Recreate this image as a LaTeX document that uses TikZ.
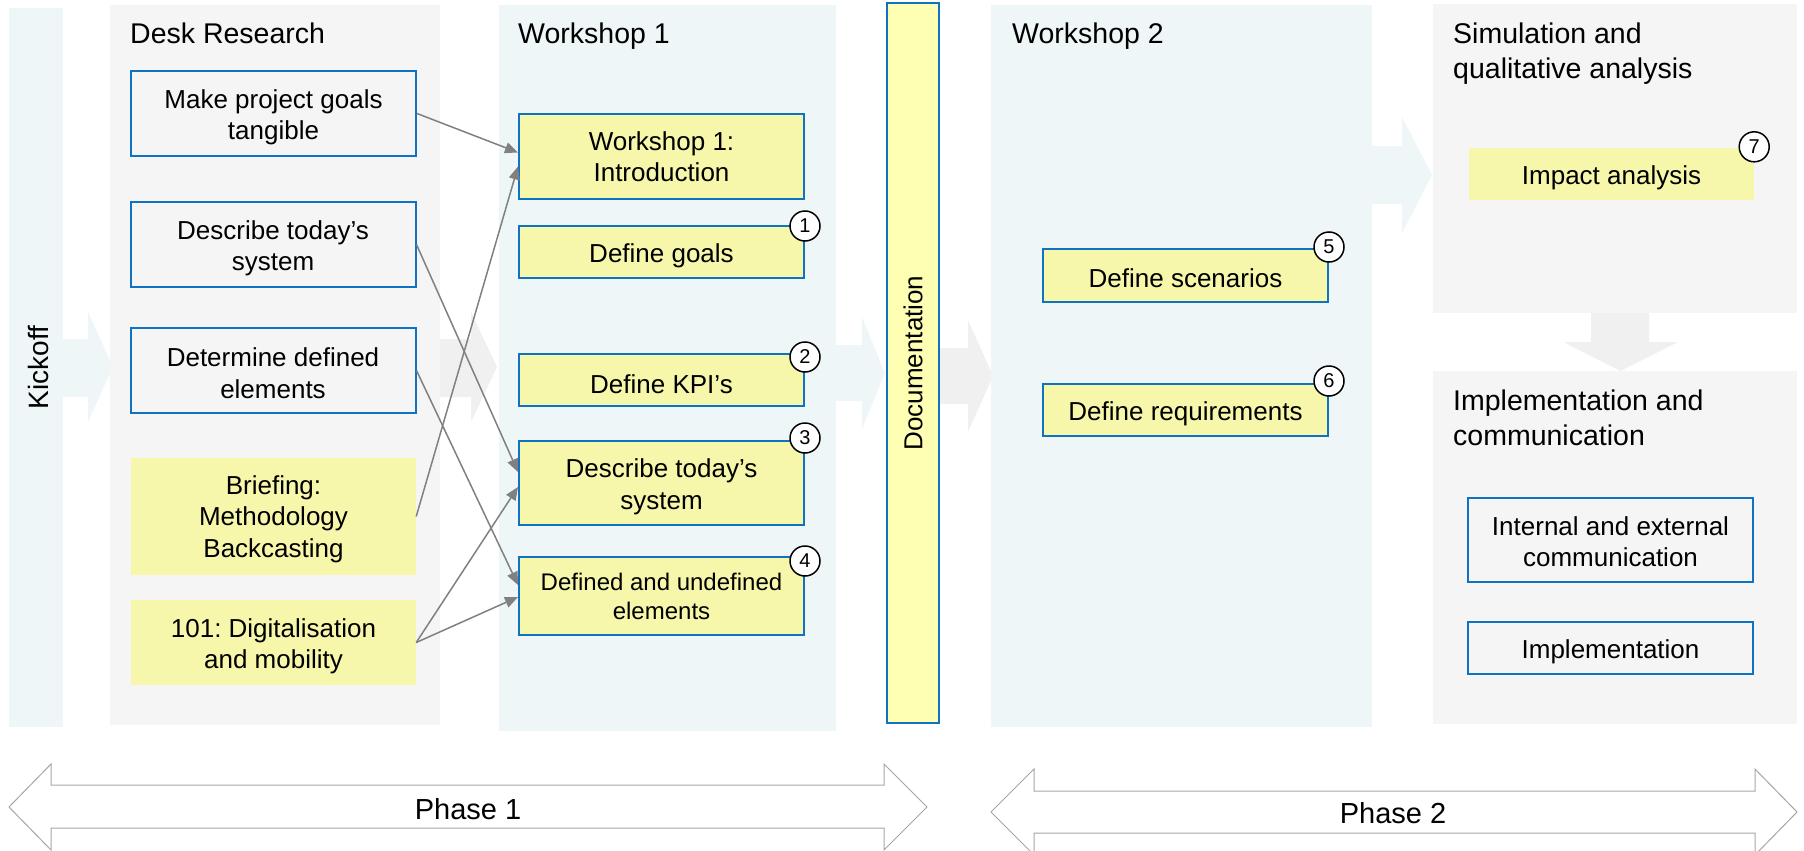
\documentclass[tikz,border=0pt]{standalone}
\usepackage{fontspec}
\setmainfont{Liberation Sans}
\usetikzlibrary{arrows.meta,calc}
\frenchspacing
\definecolor{panelblue}{HTML}{EEF6F8}
\definecolor{panelgray}{HTML}{F5F5F5}
\definecolor{bgarrowgray}{HTML}{F0F0F0}
\definecolor{boxyellow}{HTML}{F6F7AB}
\definecolor{docyellow}{HTML}{FFFFB3}
\definecolor{boxblue}{HTML}{0F72C2}
\definecolor{linkgray}{HTML}{808080}
\definecolor{phasegray}{HTML}{A6A6A6}
\newcommand{\lowerstrut}{\rule{0pt}{26.5pt}}
\begin{document}
\begin{tikzpicture}[x=1pt,y=-1pt,
  panelbox/.style={inner sep=0pt, outer sep=0pt},
  titletext/.style={inner sep=0pt, font=\fontsize{28.5}{35}\selectfont, align=left},
  outlinebox/.style={draw=boxblue, line width=2pt, inner sep=0pt, align=center,
     minimum width=285pt, font=\fontsize{26}{31.5}\selectfont},
  yelbox/.style={outlinebox, fill=boxyellow},
  plainyel/.style={fill=boxyellow, inner sep=0pt, align=center,
     minimum width=285pt, font=\fontsize{26}{31.5}\selectfont},
  numcirc/.style={circle, draw=black, line width=1.5pt, fill=white, minimum size=30pt,
     inner sep=0pt, font=\fontsize{20}{20}\selectfont},
  conn/.style={draw=linkgray, line width=1.5pt, -{Triangle[length=13pt,width=11pt]}},
  phasearrow/.style={draw=phasegray, line width=1pt, fill=white},
  phasetext/.style={inner sep=0pt, font=\fontsize{29}{34}\selectfont}
]
\useasboundingbox (0,0) rectangle (1804,851);

% background flow arrows
\fill[panelblue] (63,339) -- (88,339) -- (88,312) -- (113,367) -- (88,422) -- (88,397) -- (63,397) -- cycle;
\fill[bgarrowgray] (440,339) -- (471,339) -- (471,312) -- (497,367) -- (471,422) -- (471,397) -- (440,397) -- cycle;
\fill[panelblue] (836,345) -- (862,345) -- (862,317) -- (885,373) -- (862,429) -- (862,401) -- (836,401) -- cycle;
\fill[bgarrowgray] (939,348) -- (968,348) -- (968,320) -- (993,376) -- (968,432) -- (968,404) -- (939,404) -- cycle;
\fill[panelblue] (1372,146) -- (1402,146) -- (1402,117) -- (1432,175) -- (1402,233) -- (1402,204) -- (1372,204) -- cycle;
\fill[bgarrowgray] (1591,312) -- (1649,312) -- (1649,342) -- (1678,342) -- (1620.5,371) -- (1563,342) -- (1591,342) -- cycle;

% panels
\node[panelbox, fill=panelblue, rotate=90, minimum width=719pt, minimum height=54pt,
      font=\fontsize{28}{34}\selectfont] (kick) at (36,367.5) {\rule{0pt}{26pt}Kickoff};
\node[panelbox, fill=panelgray, minimum width=330pt, minimum height=720pt] (desk) at (275,365) {};
\node[panelbox, fill=panelblue, minimum width=337pt, minimum height=726pt] (ws1) at (667.5,368) {};
\node[draw=boxblue, line width=2pt, fill=docyellow, inner sep=0pt, rotate=90,
      minimum width=720pt, minimum height=52pt, font=\fontsize{26}{31}\selectfont] (doc) at (913,363) {Documentation};
\node[panelbox, fill=panelblue, minimum width=381pt, minimum height=722pt] (ws2) at (1181.5,366) {};
\node[panelbox, fill=panelgray, minimum width=364pt, minimum height=309pt] (sim) at (1615,158.5) {};
\node[panelbox, fill=panelgray, minimum width=364pt, minimum height=353pt] (impl) at (1615,547.5) {};

% titles
\node[titletext, anchor=base west] (desktitle) at (130,44) {Desk Research};
\node[titletext, anchor=base west] (ws1title) at (518,44) {Workshop 1};
\node[titletext, anchor=base west] (ws2title) at (1012,44) {Workshop 2};
\node[titletext, anchor=north west] (simtitle) at (1453,22.5) {Simulation and\\qualitative analysis};
\node[titletext, anchor=north west] (impltitle) at (1453,389.5) {Implementation and\\communication};

% desk research boxes
\node[outlinebox, minimum height=85pt] (mpg) at (273.5,113.5) {\lowerstrut Make project goals\\tangible};
\node[outlinebox, minimum height=85pt] (dts) at (273,244.5) {\lowerstrut Describe today’s\\system};
\node[outlinebox, minimum height=85pt] (dde) at (273,370.5) {\rule{0pt}{24pt}Determine defined\\elements};
\node[plainyel, minimum height=117pt] (brief) at (273.5,516.5) {\rule{0pt}{24pt}Briefing:\\Methodology\\Backcasting};
\node[plainyel, minimum height=85pt] (d101) at (273.5,642.5) {\lowerstrut 101: Digitalisation\\and mobility};

% workshop 1 boxes
\node[yelbox, minimum height=85pt] (intro) at (661.5,156.5) {Workshop 1:\\Introduction};
\node[yelbox, minimum height=52pt] (goals) at (661.5,252) {\lowerstrut Define goals};
\node[yelbox, minimum height=52pt] (kpi) at (661.5,380) {\lowerstrut Define KPI’s};
\node[yelbox, minimum height=84pt] (wdts) at (661.5,483) {\lowerstrut Describe today’s\\system};
\node[yelbox, minimum height=78pt, font=\fontsize{24}{29}\selectfont] (defel) at (661.5,596) {Defined and undefined\\elements};

% workshop 2 boxes
\node[yelbox, minimum height=53pt] (scen) at (1185.5,275.5) {\rule{0pt}{24pt}Define scenarios};
\node[yelbox, minimum height=52pt] (req) at (1185.5,410) {\lowerstrut Define requirements};

% simulation / implementation boxes
\node[plainyel, minimum height=52pt] (impact) at (1611.5,174) {\lowerstrut Impact analysis};
\node[outlinebox, minimum height=84pt] (comm) at (1610.5,540) {\rule{0pt}{22pt}Internal and external\\communication};
\node[outlinebox, minimum height=52pt] (implbox) at (1610.5,648) {\lowerstrut Implementation};

% numbered circles
\node[numcirc] (c1) at ($(goals.north east)+(0,1)$) {1};
\node[numcirc] (c2) at ($(kpi.north east)+(0,4)$) {2};
\node[numcirc] (c3) at ($(wdts.north east)+(0,-2)$) {3};
\node[numcirc] (c4) at ($(defel.north east)+(0,5)$) {4};
\node[numcirc] (c5) at ($(scen.north east)+(0,-1)$) {5};
\node[numcirc] (c6) at ($(req.north east)+(0,-2)$) {6};
\node[numcirc] (c7) at ($(impact.north east)+(0,-1)$) {7};

% connectors
\draw[conn] (mpg.east) -- ($(intro.west)+(0,-4)$);
\draw[conn] (brief.east) -- ($(intro.west)+(0,10)$);
\draw[conn] (dts.east) -- ($(wdts.west)+(0,-11)$);
\draw[conn] (dde.east) -- ($(defel.west)+(0,-11)$);
\draw[conn] (d101.east) -- ($(wdts.west)+(0,4)$);
\draw[conn] (d101.east) -- ($(defel.west)+(0,1)$);

% phase arrows
\draw[phasearrow] (9,807) -- (51,764) -- (51,785) -- (884,785) -- (884,764) -- (927,807)
   -- (884,850) -- (884,828) -- (51,828) -- (51,850) -- cycle;
\node[phasetext] (phase1) at (468,809) {Phase 1};
\draw[phasearrow] (991,812) -- (1034,769) -- (1034,791) -- (1755,791) -- (1755,769) -- (1797,812)
   -- (1755,855) -- (1755,833) -- (1034,833) -- (1034,855) -- cycle;
\node[phasetext] (phase2) at (1393,813) {Phase 2};
\end{tikzpicture}
\end{document}
